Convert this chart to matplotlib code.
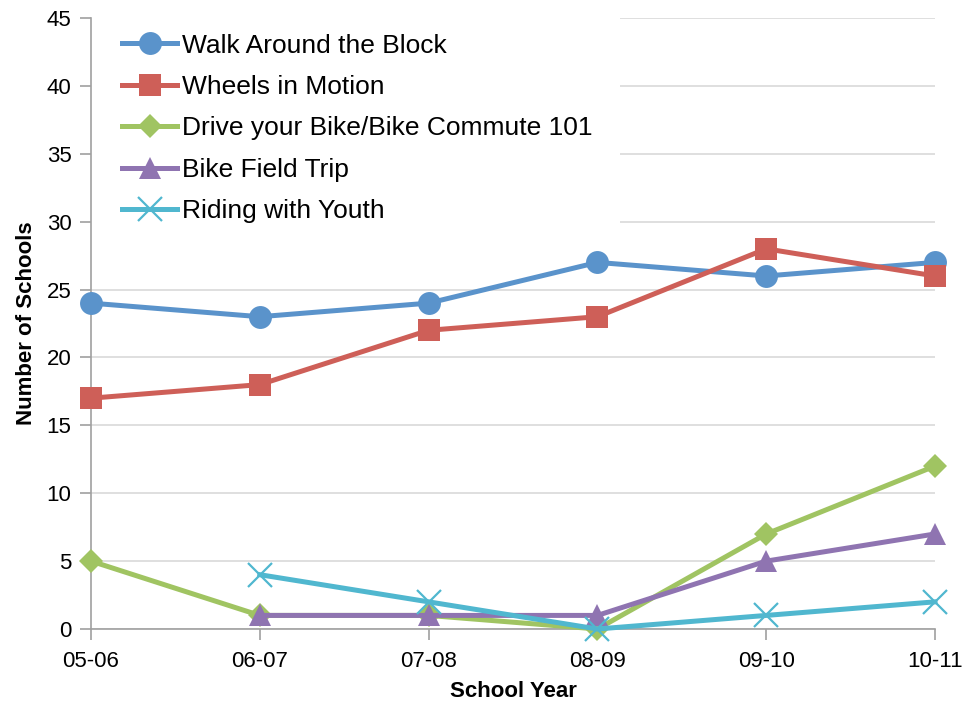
import numpy as np
import matplotlib.pyplot as plt
from matplotlib.patches import Rectangle

plt.rcParams['font.family'] = ['Liberation Sans', 'DejaVu Sans']

# 数据
years = ['05-06', '06-07', '07-08', '08-09', '09-10', '10-11']
walk_block = [24, 23, 24, 27, 26, 27]
wheels_motion = [17, 18, 22, 23, 28, 26]
drive_bike = [5, 1, 1, 0, 7, 12]
field_trip = [np.nan, 1, 1, 1, 5, 7]
riding_youth = [np.nan, 4, 2, 0, 1, 2]

series = [
    ('Walk Around the Block', walk_block, '#5A93CB', 'o', 16.5),
    ('Wheels in Motion', wheels_motion, '#CE5F58', 's', 16),
    ('Drive your Bike/Bike Commute 101', drive_bike, '#A0C462', 'D', 12),
    ('Bike Field Trip', field_trip, '#8F74B1', '^', 16),
    ('Riding with Youth', riding_youth, '#50B7CF', 'x', 17),
]

fig = plt.figure(figsize=(9.65, 7.03), dpi=100)
ax = fig.add_axes([91 / 965, 1 - 629 / 703, 844 / 965, 611 / 703])

x = np.arange(len(years))
for name, vals, col, mk, ms in series:
    if mk == 'x':
        ax.plot(x, vals, color=col, lw=3.6, marker=mk, ms=ms, mew=1.6,
                label=name, clip_on=False, zorder=3)
    else:
        ax.plot(x, vals, color=col, lw=3.6, marker=mk, ms=ms, mew=0,
                label=name, clip_on=False, zorder=3)

ax.set_xlim(0, len(years) - 1)
ax.set_ylim(0, 45)
ax.set_yticks(range(0, 46, 5))
ax.set_xticks(x)
ax.set_xticklabels(years)

ax.set_axisbelow(True)
ax.yaxis.grid(True, color='#D9D9D9', lw=1.2)
ax.xaxis.grid(False)

for s in ['top', 'right']:
    ax.spines[s].set_visible(False)
for s in ['left', 'bottom']:
    ax.spines[s].set_color('#A0A0A0')
    ax.spines[s].set_linewidth(1.2)
    ax.spines[s].set_zorder(2)
ax.tick_params(axis='both', colors='#A0A0A0', length=8, width=1.2,
               labelsize=16, labelcolor='black')
ax.tick_params(axis='y', pad=6)
ax.tick_params(axis='x', pad=8)

ax.set_xlabel('School Year', fontsize=16, fontweight='bold', labelpad=6)
ax.set_ylabel('Number of Schools', fontsize=16, fontweight='bold', labelpad=7)

# 图例背景白框
ax.add_patch(Rectangle((0, 0.656), 0.627, 0.344, transform=ax.transAxes,
                       facecolor='white', edgecolor='none', zorder=1))

leg = ax.legend(loc='upper left', bbox_to_anchor=(0.0367, 0.9746), frameon=False,
                fontsize=19, handlelength=2.1, handletextpad=0.19,
                labelspacing=0.66, borderaxespad=0, borderpad=0)

fig.savefig('out.png', dpi=100)
